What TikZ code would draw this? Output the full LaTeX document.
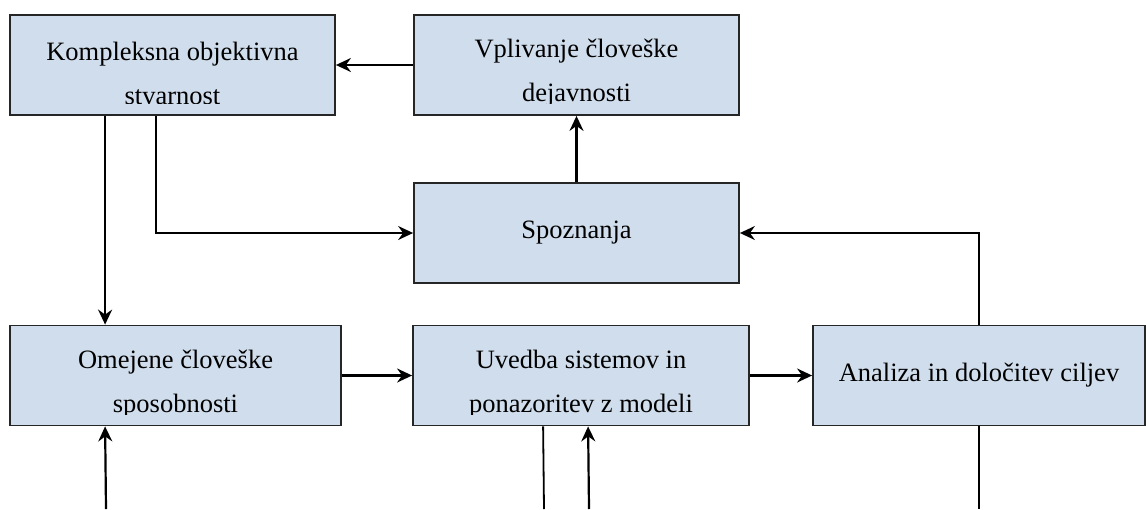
\documentclass[tikz,border=0pt]{standalone}
\usepackage{fontspec}
\setmainfont{Liberation Serif}
\usetikzlibrary{arrows.meta}
\definecolor{modra}{RGB}{208,221,236}
\tikzset{
  blok/.style={draw=black!85, fill=modra, line width=1.8pt, minimum height=100pt, inner sep=0pt},
  besedilo/.style={font=\fontsize{26.5}{44}\selectfont, align=center, inner sep=0pt},
  napis/.style n args={2}{path picture={
      \clip (path picture bounding box.north west) rectangle ([yshift=11.5pt]path picture bounding box.south east);
      \node[besedilo, yshift=#2] at (path picture bounding box.center) {#1};}},
  puscica/.style={line width=2.2pt, -{Stealth[length=15pt, width=14pt, inset=5pt]}},
  crta/.style={line width=1.8pt}
}
\begin{document}
\begin{tikzpicture}[x=1pt, y=1pt]
            \useasboundingbox (0,0) rectangle (1146,-509);

            \node[blok, minimum width=325pt, napis={Kompleksna objektivna\\stvarnost}{-8.5pt}] (K) at (172.5,-65) {};
            \node[blok, minimum width=325pt, napis={Vplivanje človeške\\dejavnosti}{-8.5pt}] (V) at (576.5,-65) {};
            \node[blok, minimum width=325pt, napis={Spoznanja}{0pt}] (S) at (576.5,-233) {};
            \node[blok, minimum width=331pt, napis={Omejene človeške\\sposobnosti}{-8.5pt}] (O) at (175.5,-375.5) {};
            \node[blok, minimum width=336pt, napis={Uvedba sistemov in\\ponazoritev z modeli}{-8.5pt}] (U) at (581,-375.5) {};
            \node[blok, minimum width=332pt, napis={Analiza in določitev ciljev}{0pt}] (A) at (979,-375.5) {};

            \coordinate (o1) at (106,-509);
            \coordinate (o2) at (544,-509);
            \coordinate (o3) at (589,-509);
            \coordinate (o4) at (979,-509);

            \draw[puscica] (V) -- (K);
            \draw[puscica] (S) -- (V);
            \draw[puscica] ([xshift=96pt]K.south west) -- ([xshift=96pt]O.north west);
            \draw[crta, -{Stealth[length=15pt, width=14pt, inset=5pt]}] ([xshift=147pt]K.south west) |- (S.west);
            \draw[puscica] (O) -- (U);
            \draw[puscica] (U) -- (A);
            \draw[crta, -{Stealth[length=15pt, width=14pt, inset=5pt]}] (A.north) |- (S.east);
            \draw[crta] (A.south) -- (o4);
            \draw[crta] ([xshift=131pt]U.south west) -- (o2);
            \draw[puscica] (o3) -- ([xshift=176pt]U.south west);
            \draw[puscica] (o1) -- ([xshift=96pt]O.south west);
        \end{tikzpicture}
\end{document}
